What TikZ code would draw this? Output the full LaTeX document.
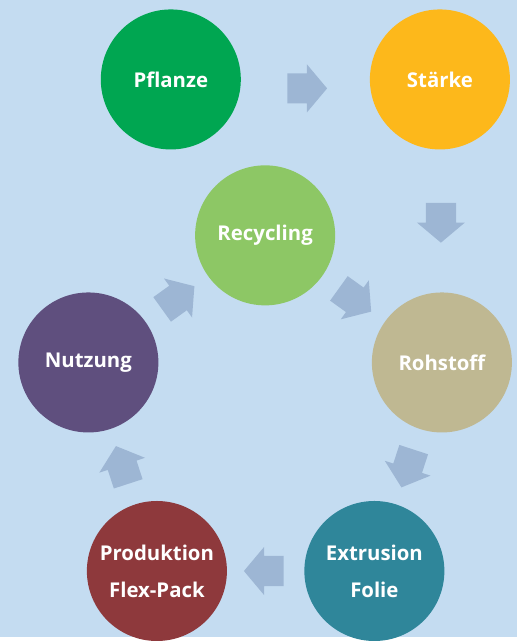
\documentclass[tikz,border=0pt]{standalone}
\usepackage{fontspec}
\setmainfont{Open Sans}
\usetikzlibrary{shapes.arrows,calc}
\definecolor{bgblue}{HTML}{C4DCF1}
\definecolor{arrowblue}{HTML}{9DB6D4}
\definecolor{cgreen}{HTML}{00A651}
\definecolor{corange}{HTML}{FDB81B}
\definecolor{clight}{HTML}{8DC765}
\definecolor{ckhaki}{HTML}{BFB892}
\definecolor{cviolet}{HTML}{5F4F7E}
\definecolor{cred}{HTML}{8E393C}
\definecolor{cteal}{HTML}{2F869A}
\tikzset{
  stage/.style={circle, minimum size=141pt, inner sep=0pt, fill=#1,
    text=white, font=\fontsize{20.5}{37}\selectfont\bfseries, align=center},
  flow/.style={single arrow, fill=arrowblue, draw=none, inner xsep=0pt,
    inner ysep=15pt, minimum height=40pt, single arrow head extend=9pt,
    single arrow tip angle=100, rotate=#1, xshift=-4.5pt}
}
\begin{document}
\begin{tikzpicture}[x=1pt,y=-1pt]
\fill[bgblue] (0,0) rectangle (521,641);

%stages
\node[stage=cgreen]  (pflanze)   at (172,80)  {Pflanze};
\node[stage=corange] (staerke)   at (443,80)  {Stärke};
\node[stage=clight]  (recycling) at (267,237) {Recycling};
\node[stage=ckhaki]  (rohstoff)  at (445,365) {Rohstoff};
\node[stage=cviolet] (nutzung)   at (89,365)  {Nutzung};
\node[stage=cred]    (produktion) at (158,575) {Produktion\\Flex-Pack};
\node[stage=cteal]   (extrusion) at (377,575) {Extrusion\\Folie};

%arrows between stages
\node[flow=0]      (f1) at ($(pflanze)!0.5!(staerke)+(0,9)$) {};
\node[flow=-90]    (f2) at ($(staerke)!0.5!(rohstoff)$) {};
\node[flow=-35.7]  (f3) at ($(recycling)!0.5!(rohstoff)$) {};
\node[flow=-108]   (f4) at ($(rohstoff)!0.5!(extrusion)$) {};
\node[flow=180]    (f5) at ($(extrusion)!0.5!(produktion)$) {};
\node[flow=108]    (f6) at ($(produktion)!0.5!(nutzung)$) {};
\node[flow=35.7]   (f7) at ($(nutzung)!0.5!(recycling)$) {};
\end{tikzpicture}
\end{document}
